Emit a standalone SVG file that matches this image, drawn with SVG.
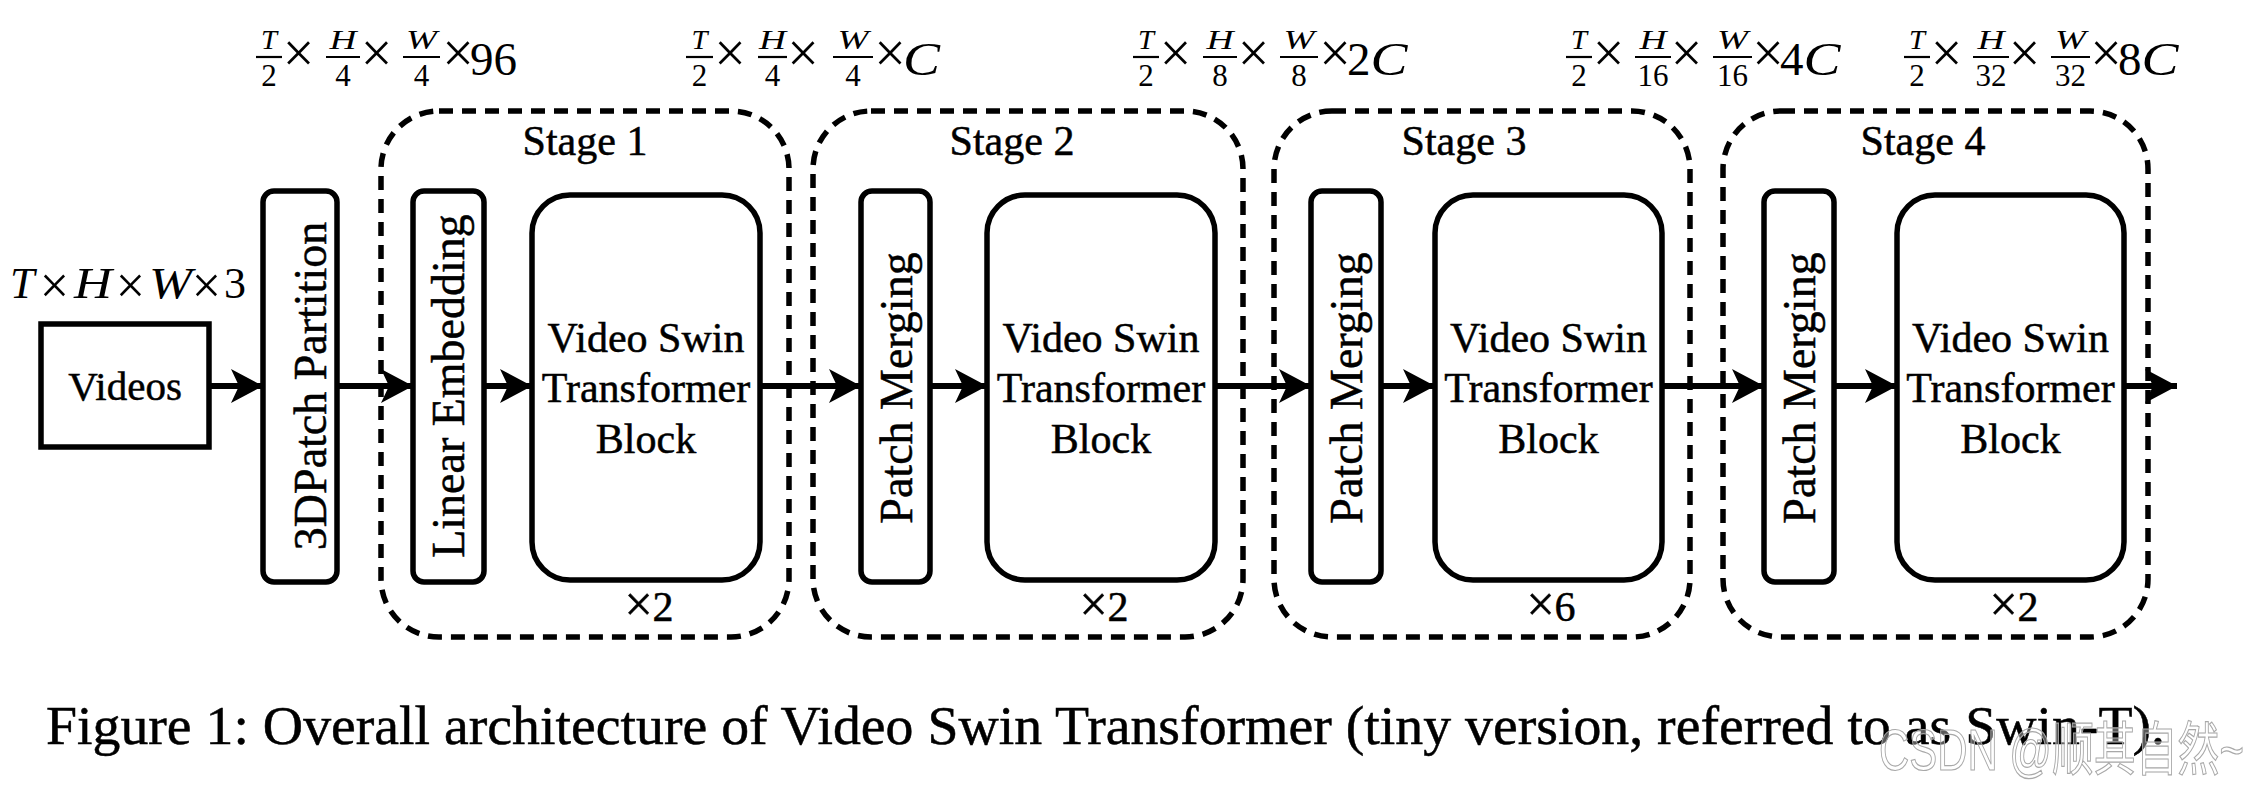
<svg xmlns="http://www.w3.org/2000/svg" width="2252" height="790" viewBox="0 0 2252 790">
<defs>
<style>
.t{font-family:"Liberation Serif","Times New Roman",serif;fill:#000}
.w{stroke:#000;stroke-width:0.5}
.it{font-style:italic}
.lbl{font-size:42px}
.rot{font-size:46px}
.main{font-size:47px}
.x{font-size:56px}
.num{font-size:27px;font-style:italic}
.den{font-size:31px}
.box{fill:#fff;stroke:#000;stroke-width:5.5}
.stage{fill:none;stroke:#000;stroke-width:5.5;stroke-dasharray:14 9}
.bar{stroke:#000;stroke-width:2.2}
.conn line{stroke:#000;stroke-width:6;marker-end:url(#ah)}
</style>
<marker id="ah" viewBox="0 0 32 34" markerWidth="32" markerHeight="34" refX="32" refY="17" orient="auto" markerUnits="userSpaceOnUse">
<path d="M32,17 L0,0 L8,17 L0,34 Z" fill="#000"/>
</marker>
</defs>
<rect width="2252" height="790" fill="#fff"/>

<!-- stage containers -->
<g id="stage1"><rect class="stage" x="381" y="111" width="408" height="526" rx="58"/><text class="t w lbl" x="585" y="155" text-anchor="middle">Stage 1</text></g>
<g id="stage2"><rect class="stage" x="813" y="111" width="430" height="526" rx="58"/><text class="t w lbl" x="1012" y="155" text-anchor="middle">Stage 2</text></g>
<g id="stage3"><rect class="stage" x="1274" y="111" width="416" height="526" rx="58"/><text class="t w lbl" x="1464" y="155" text-anchor="middle">Stage 3</text></g>
<g id="stage4"><rect class="stage" x="1723" y="111" width="425" height="526" rx="58"/><text class="t w lbl" x="1923" y="155" text-anchor="middle">Stage 4</text></g>

<!-- connectors -->
<g id="connectors" class="conn">
<line x1="209" y1="386" x2="263" y2="386"/>
<line x1="337" y1="386" x2="413" y2="386"/>
<line x1="484" y1="386" x2="532" y2="386"/>
<line x1="760" y1="386" x2="861" y2="386"/>
<line x1="930" y1="386" x2="987" y2="386"/>
<line x1="1215" y1="386" x2="1311" y2="386"/>
<line x1="1381" y1="386" x2="1435" y2="386"/>
<line x1="1662" y1="386" x2="1764" y2="386"/>
<line x1="1834" y1="386" x2="1897" y2="386"/>
<line x1="2124" y1="386" x2="2177" y2="386"/>
</g>

<!-- nodes -->
<g id="videos">
<rect class="box" x="41" y="324" width="168" height="123"/>
<text class="t w" font-size="41" x="125" y="400" text-anchor="middle">Videos</text>
</g>
<g id="input-size">
<text class="t it" font-size="44" x="10" y="298">T</text>
<text class="t" font-size="52" x="54.5" y="303" text-anchor="middle">×</text>
<text class="t it" font-size="44" x="74" y="298" textLength="38" lengthAdjust="spacingAndGlyphs">H</text>
<text class="t" font-size="52" x="130.5" y="303" text-anchor="middle">×</text>
<text class="t it" font-size="44" x="149" y="298" textLength="43" lengthAdjust="spacingAndGlyphs">W</text>
<text class="t" font-size="52" x="206.5" y="303" text-anchor="middle">×</text>
<text class="t" font-size="44" x="224" y="298">3</text>
</g>
<g id="patch-partition">
<rect class="box" x="263" y="191" width="74" height="391" rx="11"/>
<text class="t w rot" transform="translate(326,386) rotate(-90)" text-anchor="middle">3DPatch Partition</text>
</g>
<g id="linear-embedding">
<rect class="box" x="413" y="191" width="71" height="391" rx="11"/>
<text class="t w rot" transform="translate(464,386) rotate(-90)" text-anchor="middle">Linear Embedding</text>
</g>
<g id="vst1">
<rect class="box" x="532" y="195" width="228" height="385" rx="38"/>
<text class="t w lbl" x="646" y="352" text-anchor="middle">Video Swin</text>
<text class="t w lbl" x="646" y="402" text-anchor="middle">Transformer</text>
<text class="t w lbl" x="646" y="453" text-anchor="middle">Block</text>
<text class="t w lbl" x="649" y="621" text-anchor="middle"><tspan font-size="50">×</tspan>2</text>
</g>
<g id="patch-merging2">
<rect class="box" x="861" y="191" width="69" height="391" rx="11"/>
<text class="t w rot" transform="translate(912,388) rotate(-90)" text-anchor="middle">Patch Merging</text>
</g>
<g id="vst2">
<rect class="box" x="987" y="195" width="228" height="385" rx="38"/>
<text class="t w lbl" x="1101" y="352" text-anchor="middle">Video Swin</text>
<text class="t w lbl" x="1101" y="402" text-anchor="middle">Transformer</text>
<text class="t w lbl" x="1101" y="453" text-anchor="middle">Block</text>
<text class="t w lbl" x="1104" y="621" text-anchor="middle"><tspan font-size="50">×</tspan>2</text>
</g>
<g id="patch-merging3">
<rect class="box" x="1311" y="191" width="70" height="391" rx="11"/>
<text class="t w rot" transform="translate(1362,388) rotate(-90)" text-anchor="middle">Patch Merging</text>
</g>
<g id="vst3">
<rect class="box" x="1435" y="195" width="227" height="385" rx="38"/>
<text class="t w lbl" x="1548.5" y="352" text-anchor="middle">Video Swin</text>
<text class="t w lbl" x="1548.5" y="402" text-anchor="middle">Transformer</text>
<text class="t w lbl" x="1548.5" y="453" text-anchor="middle">Block</text>
<text class="t w lbl" x="1551" y="621" text-anchor="middle"><tspan font-size="50">×</tspan>6</text>
</g>
<g id="patch-merging4">
<rect class="box" x="1764" y="191" width="70" height="391" rx="11"/>
<text class="t w rot" transform="translate(1815,388) rotate(-90)" text-anchor="middle">Patch Merging</text>
</g>
<g id="vst4">
<rect class="box" x="1897" y="195" width="227" height="385" rx="38"/>
<text class="t w lbl" x="2010.5" y="352" text-anchor="middle">Video Swin</text>
<text class="t w lbl" x="2010.5" y="402" text-anchor="middle">Transformer</text>
<text class="t w lbl" x="2010.5" y="453" text-anchor="middle">Block</text>
<text class="t w lbl" x="2014" y="621" text-anchor="middle"><tspan font-size="50">×</tspan>2</text>
</g>

<!-- dimension labels -->
<g id="dim1">
<line class="bar" x1="256" y1="57" x2="282" y2="57"/><text class="t num" x="269" y="49" text-anchor="middle" textLength="16" lengthAdjust="spacingAndGlyphs">T</text><text class="t den" x="269" y="86" text-anchor="middle">2</text>
<text class="t x" x="298.5" y="72" text-anchor="middle">×</text>
<line class="bar" x1="326" y1="57" x2="360" y2="57"/><text class="t num" x="343" y="49" text-anchor="middle" textLength="27" lengthAdjust="spacingAndGlyphs">H</text><text class="t den" x="343" y="86" text-anchor="middle">4</text>
<text class="t x" x="376.5" y="72" text-anchor="middle">×</text>
<line class="bar" x1="403" y1="57" x2="440" y2="57"/><text class="t num" x="421.5" y="49" text-anchor="middle" textLength="31" lengthAdjust="spacingAndGlyphs">W</text><text class="t den" x="421.5" y="86" text-anchor="middle">4</text>
<text class="t x" x="458" y="72" text-anchor="middle">×</text>
<text class="t main" x="470" y="75">96</text>
</g>
<g id="dim2">
<line class="bar" x1="686" y1="57" x2="713" y2="57"/><text class="t num" x="699.5" y="49" text-anchor="middle" textLength="16" lengthAdjust="spacingAndGlyphs">T</text><text class="t den" x="699.5" y="86" text-anchor="middle">2</text>
<text class="t x" x="730" y="72" text-anchor="middle">×</text>
<line class="bar" x1="758" y1="57" x2="787" y2="57"/><text class="t num" x="772.5" y="49" text-anchor="middle" textLength="27" lengthAdjust="spacingAndGlyphs">H</text><text class="t den" x="772.5" y="86" text-anchor="middle">4</text>
<text class="t x" x="803" y="72" text-anchor="middle">×</text>
<line class="bar" x1="833" y1="57" x2="873" y2="57"/><text class="t num" x="853" y="49" text-anchor="middle" textLength="31" lengthAdjust="spacingAndGlyphs">W</text><text class="t den" x="853" y="86" text-anchor="middle">4</text>
<text class="t x" x="890" y="72" text-anchor="middle">×</text>
<text class="t main it" x="903" y="75" textLength="37" lengthAdjust="spacingAndGlyphs">C</text>
</g>
<g id="dim3">
<line class="bar" x1="1133" y1="57" x2="1159" y2="57"/><text class="t num" x="1146" y="49" text-anchor="middle" textLength="16" lengthAdjust="spacingAndGlyphs">T</text><text class="t den" x="1146" y="86" text-anchor="middle">2</text>
<text class="t x" x="1175.5" y="72" text-anchor="middle">×</text>
<line class="bar" x1="1203" y1="57" x2="1237" y2="57"/><text class="t num" x="1220" y="49" text-anchor="middle" textLength="27" lengthAdjust="spacingAndGlyphs">H</text><text class="t den" x="1220" y="86" text-anchor="middle">8</text>
<text class="t x" x="1253.5" y="72" text-anchor="middle">×</text>
<line class="bar" x1="1280" y1="57" x2="1318" y2="57"/><text class="t num" x="1299" y="49" text-anchor="middle" textLength="31" lengthAdjust="spacingAndGlyphs">W</text><text class="t den" x="1299" y="86" text-anchor="middle">8</text>
<text class="t x" x="1335" y="72" text-anchor="middle">×</text>
<text class="t main" x="1347" y="75">2<tspan class="it" textLength="37" lengthAdjust="spacingAndGlyphs">C</tspan></text>
</g>
<g id="dim4">
<line class="bar" x1="1566" y1="57" x2="1592" y2="57"/><text class="t num" x="1579" y="49" text-anchor="middle" textLength="16" lengthAdjust="spacingAndGlyphs">T</text><text class="t den" x="1579" y="86" text-anchor="middle">2</text>
<text class="t x" x="1608.5" y="72" text-anchor="middle">×</text>
<line class="bar" x1="1635" y1="57" x2="1671" y2="57"/><text class="t num" x="1653" y="49" text-anchor="middle" textLength="27" lengthAdjust="spacingAndGlyphs">H</text><text class="t den" x="1653" y="86" text-anchor="middle">16</text>
<text class="t x" x="1686.5" y="72" text-anchor="middle">×</text>
<line class="bar" x1="1713" y1="57" x2="1752" y2="57"/><text class="t num" x="1732.5" y="49" text-anchor="middle" textLength="31" lengthAdjust="spacingAndGlyphs">W</text><text class="t den" x="1732.5" y="86" text-anchor="middle">16</text>
<text class="t x" x="1768" y="72" text-anchor="middle">×</text>
<text class="t main" x="1780" y="75">4<tspan class="it" textLength="37" lengthAdjust="spacingAndGlyphs">C</tspan></text>
</g>
<g id="dim5">
<line class="bar" x1="1904" y1="57" x2="1930" y2="57"/><text class="t num" x="1917" y="49" text-anchor="middle" textLength="16" lengthAdjust="spacingAndGlyphs">T</text><text class="t den" x="1917" y="86" text-anchor="middle">2</text>
<text class="t x" x="1946.5" y="72" text-anchor="middle">×</text>
<line class="bar" x1="1973" y1="57" x2="2009" y2="57"/><text class="t num" x="1991" y="49" text-anchor="middle" textLength="27" lengthAdjust="spacingAndGlyphs">H</text><text class="t den" x="1991" y="86" text-anchor="middle">32</text>
<text class="t x" x="2024.5" y="72" text-anchor="middle">×</text>
<line class="bar" x1="2051" y1="57" x2="2090" y2="57"/><text class="t num" x="2070.5" y="49" text-anchor="middle" textLength="31" lengthAdjust="spacingAndGlyphs">W</text><text class="t den" x="2070.5" y="86" text-anchor="middle">32</text>
<text class="t x" x="2106" y="72" text-anchor="middle">×</text>
<text class="t main" x="2118" y="75">8<tspan class="it" textLength="37" lengthAdjust="spacingAndGlyphs">C</tspan></text>
</g>

<!-- caption -->
<text class="t w" font-size="55" x="46" y="744" textLength="2119" lengthAdjust="spacingAndGlyphs">Figure 1: Overall architecture of Video Swin Transformer (tiny version, referred to as Swin-T).</text>
<text x="1879" y="770" font-family="'Liberation Sans','Noto Sans CJK SC',sans-serif" font-size="58" fill="#ffffff" fill-opacity="0.35" stroke="#a8a8a8" stroke-width="1.2" textLength="365" lengthAdjust="spacingAndGlyphs">CSDN @顺其自然~</text>
</svg>
